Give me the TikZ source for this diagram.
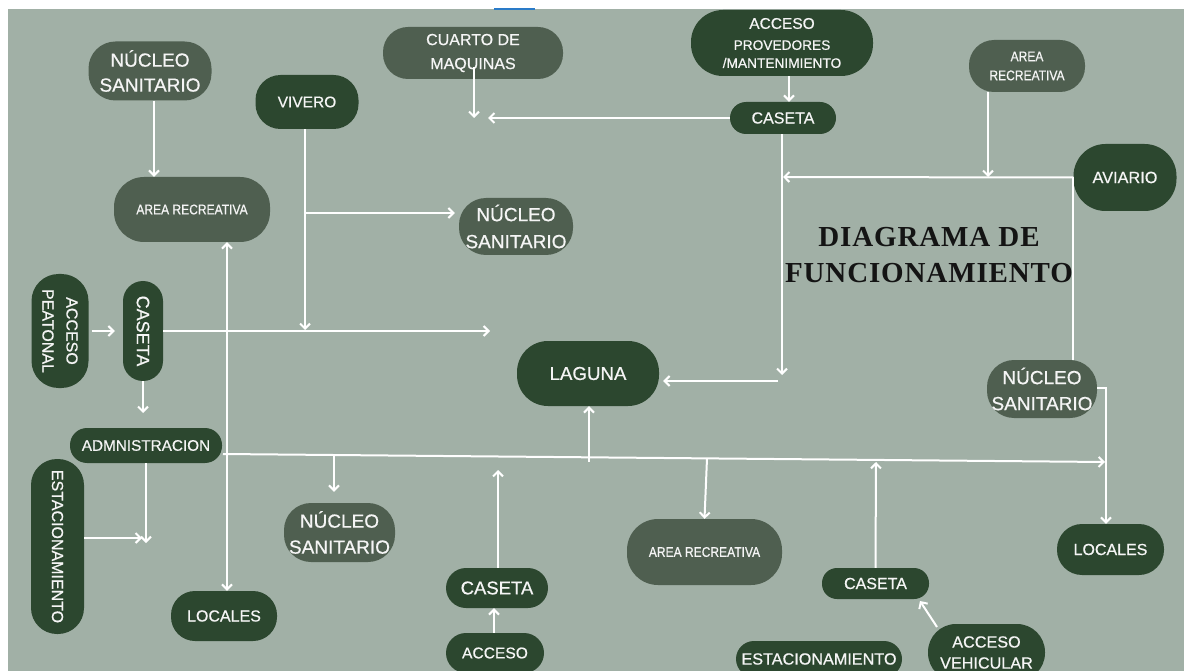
\documentclass[tikz,border=0pt]{standalone}
\usepackage{fontspec}
\setmainfont{Liberation Sans}[FakeBold=0.6]
\newfontfamily\condfont[FakeStretch=0.86,FakeBold=0.6]{Liberation Sans}
\newfontfamily\titlefont[LetterSpace=3]{Liberation Serif}
\usetikzlibrary{arrows.meta}
\definecolor{bg}{RGB}{161,176,166}
\definecolor{dk}{RGB}{44,71,47}
\definecolor{md}{RGB}{79,95,80}
\definecolor{tx}{RGB}{245,245,245}
\definecolor{ttl}{RGB}{20,20,20}
\definecolor{bl}{RGB}{42,123,200}
\newcommand{\myfs}[2]{\fontsize{#1}{#2}\selectfont}
\tikzset{
  pill/.style={inner sep=0pt, text=tx, align=center},
  dkbox/.style={pill, fill=dk},
  mdbox/.style={pill, fill=md},
  wl/.style={draw=white, line width=2pt},
  ar/.style={wl, -{Straight Barb[length=5pt,width=10pt]}},
  arr/.style={wl, {Straight Barb[length=5pt,width=10pt]}-{Straight Barb[length=5pt,width=10pt]}}
}
\begin{document}
\begin{tikzpicture}[x=1pt,y=-1pt]
\useasboundingbox (0,0) rectangle (1184,671);
\clip (0,0) rectangle (1184,671);
\fill[white] (0,0) rectangle (1184,671);
\fill[bg] (8,9) rectangle (1184,671);
\draw[bl, line width=1.5pt] (494,9) -- (535,9);

% nodes
\node[mdbox, minimum width=123pt, minimum height=59pt, rounded corners=27pt, font=\myfs{19}{25}] (ns1) at (150,71) {NÚCLEO\\SANITARIO};
\node[dkbox, minimum width=103pt, minimum height=54pt, rounded corners=25pt, font=\myfs{15.5}{18}] (viv) at (307,102) {VIVERO};
\node[mdbox, minimum width=156pt, minimum height=65pt, rounded corners=30pt, font=\condfont\myfs{14}{17}] (ar1) at (192,209.5) {AREA RECREATIVA};
\node[mdbox, minimum width=180pt, minimum height=52pt, rounded corners=25pt, font=\myfs{16}{24}] (cm) at (473,53) {CUARTO DE\\MAQUINAS};
\node[dkbox, minimum width=182pt, minimum height=66pt, rounded corners=32pt, font=\myfs{13.7}{18}] (apm) at (782,43) {{\myfs{15.5}{18}ACCESO}\\[3pt]PROVEDORES\\/MANTENIMIENTO};
\node[dkbox, minimum width=106pt, minimum height=32pt, rounded corners=16pt, font=\myfs{16}{19}] (csT) at (783,118) {CASETA};
\node[mdbox, minimum width=116pt, minimum height=52pt, rounded corners=25pt, font=\condfont\myfs{14}{19}] (arTR) at (1027,66) {AREA\\RECREATIVA};
\node[dkbox, minimum width=103pt, minimum height=67pt, rounded corners=32pt, font=\myfs{16.3}{19}] (avi) at (1125,177.5) {AVIARIO};
\node[mdbox, minimum width=114pt, minimum height=57pt, rounded corners=27pt, font=\myfs{19}{27}] (ns2) at (516,226.5) {NÚCLEO\\SANITARIO};
\node[text=ttl, align=center, inner sep=0pt, font=\titlefont\bfseries\myfs{29}{35.5}] (ttl) at (929,255) {DIAGRAMA DE\\FUNCIONAMIENTO};
\node[dkbox, rotate=-90, minimum width=114pt, minimum height=57pt, rounded corners=27pt, font=\myfs{16}{24}] (ap) at (60,331) {ACCESO\\PEATONAL};
\node[dkbox, rotate=-90, minimum width=100pt, minimum height=40pt, rounded corners=20pt, font=\myfs{18}{20}] (cv) at (143,331) {CASETA};
\node[dkbox, minimum width=152pt, minimum height=35pt, rounded corners=17pt, font=\myfs{15.3}{18}] (adm) at (146,445.5) {ADMNISTRACION};
\node[dkbox, rotate=-90, minimum width=175pt, minimum height=53pt, rounded corners=26pt, font=\myfs{16}{19}] (est) at (57.5,546.5) {ESTACIONAMIENTO};
\node[dkbox, minimum width=106pt, minimum height=50pt, rounded corners=24pt, font=\myfs{16}{19}] (locL) at (224,616) {LOCALES};
\node[mdbox, minimum width=111pt, minimum height=59pt, rounded corners=27pt, font=\myfs{19}{26}] (ns3) at (339.5,532.5) {NÚCLEO\\SANITARIO};
\node[dkbox, minimum width=142pt, minimum height=65pt, rounded corners=31pt, font=\myfs{18.7}{22}] (lag) at (588,373.5) {LAGUNA};
\node[dkbox, minimum width=102pt, minimum height=40pt, rounded corners=20pt, font=\myfs{18.5}{22}] (csB) at (497,588) {CASETA};
\node[dkbox, minimum width=98pt, minimum height=40pt, rounded corners=20pt, font=\myfs{15.6}{19}] (acc) at (495,653) {ACCESO};
\node[mdbox, minimum width=155pt, minimum height=66pt, rounded corners=31pt, font=\condfont\myfs{14}{17}] (arB) at (704.5,552) {AREA RECREATIVA};
\node[dkbox, minimum width=107pt, minimum height=31pt, rounded corners=15pt, font=\myfs{16}{19}] (csBR) at (875.5,583.5) {CASETA};
\node[dkbox, minimum width=166pt, minimum height=36pt, rounded corners=18pt, font=\myfs{16.2}{19}] (est2) at (819,659) {ESTACIONAMIENTO};
\node[dkbox, minimum width=117pt, minimum height=57pt, rounded corners=28pt, font=\myfs{16.2}{21}] (av) at (986.5,652.5) {ACCESO\\VEHICULAR};
\node[mdbox, minimum width=110pt, minimum height=58pt, rounded corners=27pt, font=\myfs{19}{26}] (ns4) at (1042,389) {NÚCLEO\\SANITARIO};
\node[dkbox, minimum width=107pt, minimum height=51pt, rounded corners=25pt, font=\myfs{16}{19}] (locR) at (1110.5,549.5) {LOCALES};

% coordinates
\coordinate (v1) at (305,330);
\coordinate (v2) at (305,213);
\coordinate (h1) at (490,331);
\coordinate (c1) at (143,413);
\coordinate (m0) at (223,454);
\coordinate (m1) at (1105,462);
\coordinate (a1) at (146,543);
\coordinate (e1) at (142,538);
\coordinate (j1) at (334,455);
\coordinate (j2) at (589,462);
\coordinate (k1) at (498,470);
\coordinate (j3) at (707,458.4);
\coordinate (k2) at (876,462);
\coordinate (k3) at (937,627);
\coordinate (k4) at (920,601);
\coordinate (n1) at (1106,388);
\coordinate (q2) at (783,177);
\coordinate (q3) at (988,177);
\coordinate (q4) at (782,375);
\coordinate (q5) at (778,381);
\coordinate (q6) at (488,118);
\coordinate (q7) at (474,118);

% connectors
\draw[ar] ([xshift=4pt]ns1.south) -- ([xshift=4pt]ns1.south |- ar1.north);
\draw[ar] (viv.south -| v1) -- (v1);
\draw[ar] (v2) -- ([xshift=-4pt]ns2.west |- v2);
\draw[ar, shorten <=3pt, shorten >=8pt] (ap.north) -- (cv.south);
\draw[ar] (cv.north) -- (h1);
\draw[ar] (cv.east) -- (c1);
\draw[arr] ([xshift=35pt]ar1.south) -- ([xshift=35pt]ar1.south |- locL.north);
\draw[ar] (m0) -- (m1);
\draw[ar] (adm.south) -- (a1);
\draw[ar] (est.north |- e1) -- (e1);
\draw[ar, shorten >=11pt] (j1) -- (j1 |- ns3.north);
\draw[ar] (j2) -- (j2 |- lag.south);
\draw[ar] (csB.north -| k1) -- (k1);
\draw[ar] ([xshift=-1pt]acc.north) -- ([xshift=-1pt]acc.north |- csB.south);
\draw[ar] (j3) -- (arB.north);
\draw[ar] (csBR.north) -- (k2);
\draw[ar] (k3) -- (k4);
\draw[ar] (ns4.east |- n1) -- (n1) -- (n1 |- locR.north);
\draw[ar] (avi.west) -- (q2);
\draw[wl] (avi.west) -- (avi.west |- ns4.north);
\draw[ar] (arTR.south -| q3) -- (q3);
\draw[ar] (csT.south -| q4) -- (q4);
\draw[ar, shorten >=4pt] (q5) -- (lag.east |- q5);
\draw[ar] ([xshift=7pt]apm.south) -- ([xshift=7pt]apm.south |- csT.north);
\draw[ar] (csT.west) -- (q6);
\draw[ar] ([shift={(1,14)}]cm.center) -- (q7);
\end{tikzpicture}
\end{document}
